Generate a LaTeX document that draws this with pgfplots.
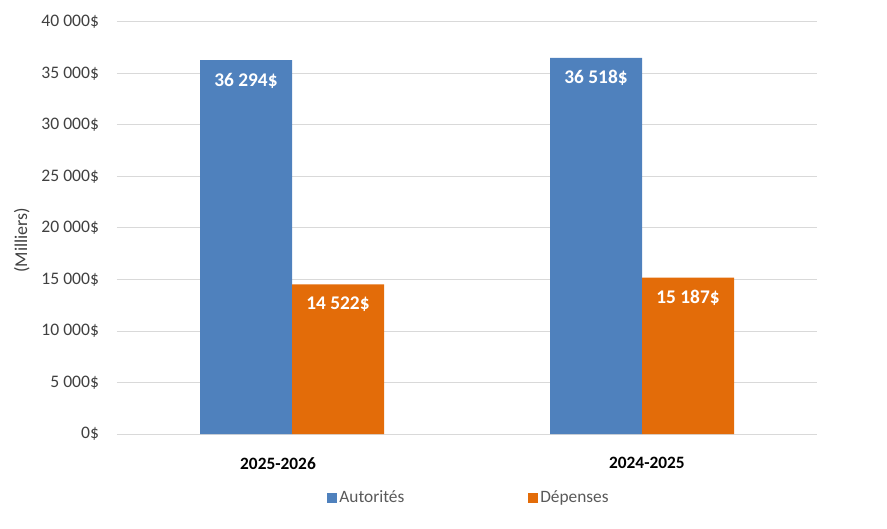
\documentclass[border=0pt]{standalone}
\usepackage{pgfplots}
\pgfplotsset{compat=1.18}
\usepackage{fontspec}
\setmainfont{Carlito}
\definecolor{bleu}{HTML}{4F81BD}
\definecolor{orange}{HTML}{E36C09}
\definecolor{grille}{HTML}{D9D9D9}
\definecolor{texte}{HTML}{404040}
\definecolor{legende}{HTML}{595959}

\begin{document}
\begin{tikzpicture}
\path[use as bounding box] (-87.75pt,-70.5pt) rectangle (577.5pt,325.5pt);
\begin{axis}[
  scale only axis,
  width=525pt, height=309pt,
  ybar=0pt, bar width=69pt,
  xmin=-0.5, xmax=1.5,
  ymin=0, ymax=40000,
  % les libellés de l'axe x ne sont pas exactement sous les groupes
  xtick={-0.04,1.014},
  xticklabels={2025-2026,2024-2025},
  ytick={0,5000,...,40000},
  scaled y ticks=false,
  ymajorgrids, grid style={grille, line width=0.75pt},
  axis line style={draw=none},
  major tick length=0pt,
  tick label style={font=\fontsize{13.2}{15}\selectfont, text=texte},
  xticklabel style={font=\fontsize{13}{15}\selectfont\bfseries, text=black, yshift=-14pt},
  yticklabel style={xshift=-10pt},
  yticklabel={\pgfmathprintnumber[assume math mode=true,1000 sep={\ }]{\tick}\$},
  ylabel={(Milliers)},
  ylabel style={font=\fontsize{13.5}{15}\selectfont, text=texte,
    at={([xshift=-62pt]axis description cs:0,0.47)}, anchor=south},
  nodes near coords={\pgfmathprintnumber[assume math mode=true,1000 sep={\ }]{\pgfplotspointmeta}\$},
  every node near coord/.append style={font=\fontsize{14.5}{16}\selectfont\bfseries, text=white, anchor=north, yshift=-6pt},
  legend columns=2,
  legend style={at={([xshift=1.5pt]axis description cs:0.5,-0.155)}, anchor=center, draw=none, fill=none,
    font=\fontsize{13}{15}\selectfont, text=legende,
    /tikz/every even column/.append style={column sep=90.5pt}},
  legend image code/.code={\fill[#1] (0pt,-3.6pt) rectangle (7.5pt,3.9pt);},
]
\addplot[fill=bleu, draw=none] coordinates {(0,36294) (1,36518)};
\addplot[fill=orange, draw=none] coordinates {(0,14522) (1,15187)};
\legend{Autorités,Dépenses}
\end{axis}
\end{tikzpicture}
\end{document}
